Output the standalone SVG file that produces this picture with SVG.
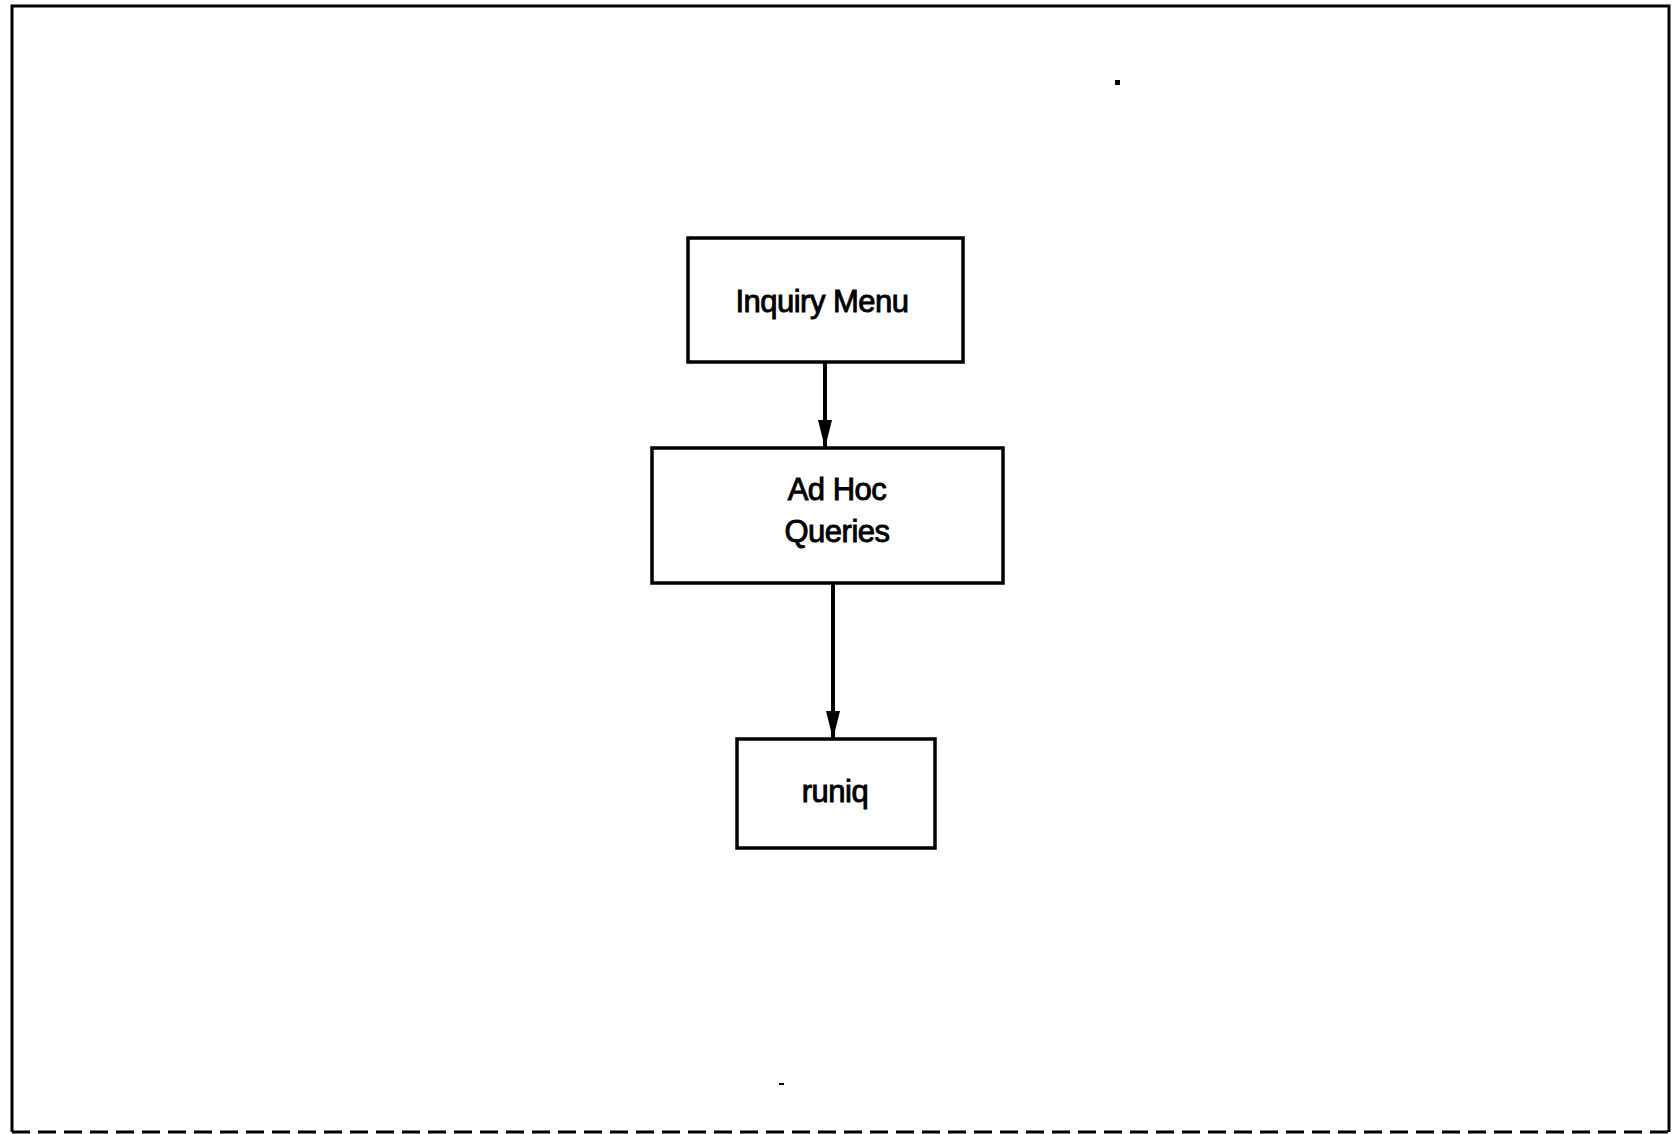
<svg xmlns="http://www.w3.org/2000/svg" width="1673" height="1134" viewBox="0 0 1673 1134">
<style>
.box{fill:#fff;stroke:#000;stroke-width:3.5}
.lbl{font-family:"Liberation Sans",Arial,sans-serif;font-size:31px;fill:#000;stroke:#000;stroke-width:0.9;text-anchor:middle;letter-spacing:-0.5px}
.con{stroke:#000;stroke-width:4;fill:none}
</style>
<defs>
<marker id="arrv" markerWidth="28" markerHeight="14" refX="28" refY="7" orient="auto" markerUnits="userSpaceOnUse" viewBox="0 0 28 14">
<path d="M0,0 L28,7 L0,14 Z" fill="#000"/>
</marker>
</defs>
<rect width="1673" height="1134" fill="#fff"/>
<g id="frame">
<path d="M12,1132 L12,6 L1669,6 L1669,1132" fill="none" stroke="#000" stroke-width="3"/>
<line x1="12" y1="1132" x2="1669" y2="1132" stroke="#000" stroke-width="3" stroke-dasharray="18,8"/>
<rect x="1115" y="80" width="5" height="5" fill="#000"/>
<rect x="779" y="1083" width="5" height="2" fill="#000"/>
</g>
<g id="connectors">
<line class="con" x1="825" y1="362" x2="825" y2="448" marker-end="url(#arrv)"/>
<line class="con" x1="833" y1="583" x2="833" y2="739" marker-end="url(#arrv)"/>
</g>
<g id="inquiry-menu">
<rect class="box" x="688" y="238" width="275" height="124"/>
<text class="lbl" x="822" y="312">Inquiry Menu</text>
</g>
<g id="ad-hoc-queries">
<rect class="box" x="652" y="448" width="351" height="135"/>
<text class="lbl" x="837" y="500">Ad Hoc</text>
<text class="lbl" x="837" y="542">Queries</text>
</g>
<g id="runiq">
<rect class="box" x="737" y="739" width="198" height="109"/>
<text class="lbl" x="835" y="802">runiq</text>
</g>
</svg>
